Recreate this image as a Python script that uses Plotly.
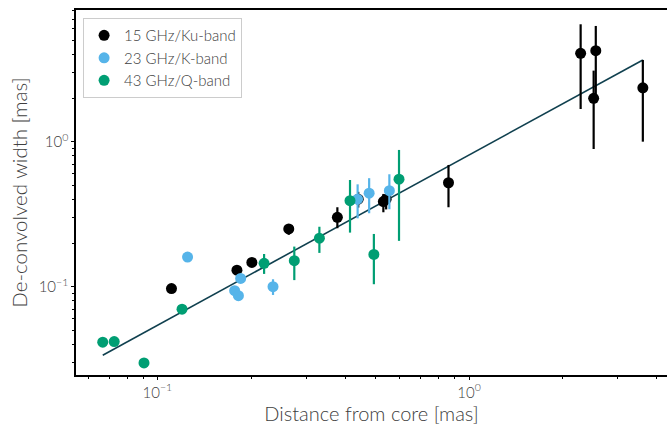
import numpy as np
import plotly.graph_objects as go

# 15 GHz / Ku-band
ku_x = [0.111, 0.180, 0.201, 0.264, 0.378, 0.441, 0.531, 0.542, 0.859, 2.28, 2.51, 2.55, 3.61]
ku_y = [0.097, 0.130, 0.147, 0.250, 0.301, 0.401, 0.386, 0.401, 0.521, 4.07, 1.99, 4.24, 2.35]
ku_ep = [0.004, 0.006, 0.006, 0.018, 0.052, 0.05, 0.05, 0.05, 0.17, 2.38, 1.10, 2.04, 1.31]
ku_em = [0.004, 0.006, 0.006, 0.022, 0.048, 0.05, 0.06, 0.06, 0.168, 2.39, 1.10, 2.2, 1.35]

# 23 GHz / K-band
k_x = [0.125, 0.177, 0.182, 0.185, 0.235, 0.439, 0.478, 0.555]
k_y = [0.160, 0.0938, 0.0867, 0.114, 0.100, 0.401, 0.441, 0.459]
k_ep = [0.004, 0.004, 0.004, 0.008, 0.0125, 0.107, 0.119, 0.137]
k_em = [0.004, 0.004, 0.004, 0.008, 0.0123, 0.105, 0.120, 0.117]

# 43 GHz / Q-band
q_x = [0.0668, 0.0727, 0.0906, 0.120, 0.220, 0.275, 0.331, 0.415, 0.495, 0.596]
q_y = [0.0414, 0.0418, 0.0298, 0.070, 0.145, 0.151, 0.216, 0.392, 0.167, 0.551]
q_ep = [0.002, 0.002, 0.002, 0.003, 0.023, 0.038, 0.043, 0.152, 0.064, 0.326]
q_em = [0.002, 0.002, 0.002, 0.003, 0.0225, 0.040, 0.045, 0.156, 0.063, 0.344]

# power-law fit: width = fit_a * distance ** fit_k
fit_a = 0.81
fit_k = 1.175

# axis tick labels
major_vals = [0.1, 1.0]
major_text = ["10<sup>−1</sup>", "10<sup>0</sup>"]

all_x = ku_x + k_x + q_x
fx = np.array([min(all_x), max(all_x)])
fy = fit_a * fx ** fit_k

FONT = "Lato"
TXT = "#404040"

fig = go.Figure()

fig.add_trace(go.Scatter(x=fx, y=fy, mode="lines", line=dict(color="#10404f", width=1.6),
                         showlegend=False, hoverinfo="skip"))

series = [
    ("15 GHz/Ku-band", ku_x, ku_y, ku_ep, ku_em, "#000000"),
    ("23 GHz/K-band", k_x, k_y, k_ep, k_em, "#56B4E9"),
    ("43 GHz/Q-band", q_x, q_y, q_ep, q_em, "#009E73"),
]
for name, xs, ys, ep, em, col in series:
    fig.add_trace(go.Scatter(
        x=xs, y=ys, mode="markers", name=name,
        marker=dict(color=col, size=11, line=dict(width=0)),
        error_y=dict(type="data", symmetric=False, array=ep, arrayminus=em,
                     color=col, thickness=2.2, width=0),
    ))

def minor_vals(lo, hi):
    vals = [v * 10.0 ** e for e in (-2, -1, 0) for v in range(2, 10)]
    return [t for t in vals if lo < t < hi]

fig.update_layout(
    width=667, height=425,
    margin=dict(l=76, r=0, t=10, b=50),
    plot_bgcolor="white", paper_bgcolor="white",
    font=dict(family=FONT, color=TXT, weight=300),
    legend=dict(x=0.012, y=0.978, xanchor="left", yanchor="top",
                bgcolor="white", bordercolor="#cccccc", borderwidth=1,
                font=dict(size=15, family=FONT, color=TXT, weight=300),
                itemwidth=30, tracegroupgap=2),
    xaxis=dict(type="log", range=[-1.261, 0.635], showgrid=False, zeroline=False,
               showline=True, linecolor="black", linewidth=1.5, mirror=True,
               ticks="outside", ticklen=3, tickcolor="black", tickwidth=1.2,
               tickmode="array", tickvals=major_vals, ticktext=major_text,
               tickfont=dict(size=15, color=TXT, weight=300),
               minor=dict(tickmode="array", tickvals=minor_vals(0.054, 4.4),
                          ticks="outside", ticklen=2, tickcolor="black", tickwidth=1),
               title=dict(text="Distance from core [mas]",
                          font=dict(size=20, color=TXT, weight=300), standoff=10)),
    yaxis=dict(type="log", range=[-1.609, 0.908], showgrid=False, zeroline=False,
               showline=True, linecolor="black", linewidth=1.5,
               ticks="outside", ticklen=3, tickcolor="black", tickwidth=1.2,
               tickmode="array", tickvals=major_vals, ticktext=major_text,
               tickfont=dict(size=15, color=TXT, weight=300),
               minor=dict(tickmode="array", tickvals=minor_vals(0.0245, 8.1),
                          ticks="outside", ticklen=2, tickcolor="black", tickwidth=1),
               title=dict(text="De-convolved width [mas]",
                          font=dict(size=20.5, color=TXT, weight=300), standoff=5)),
)

fig.write_html("out.html")
